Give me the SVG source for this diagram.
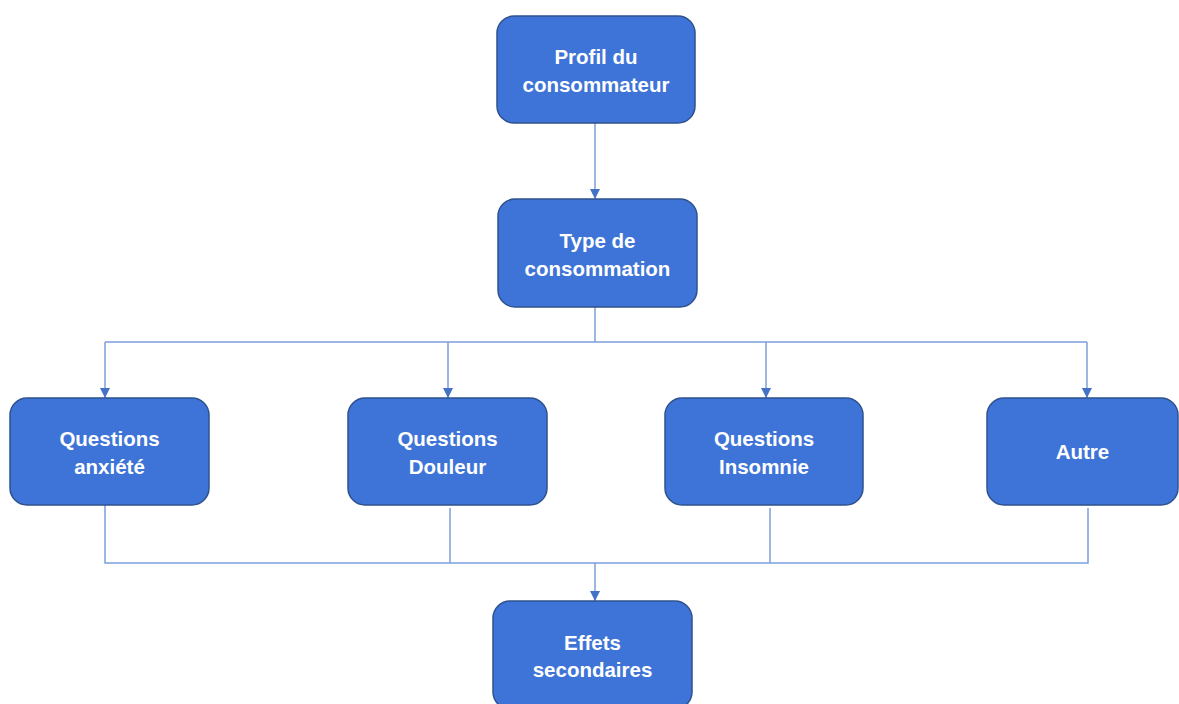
<svg xmlns="http://www.w3.org/2000/svg" width="1179" height="704" viewBox="0 0 1179 704">
<style>
.node rect{fill:#3E74D7;stroke:#2F528F;stroke-width:1.5}
.node text{fill:#FFFFFF;font-family:"Liberation Sans",Arial,sans-serif;font-weight:bold;font-size:20.5px;text-anchor:middle}
.conn path{fill:none;stroke:#7C9FDD;stroke-width:1.5}
</style>
<defs>
<marker id="arr" markerWidth="10" markerHeight="10" refX="10" refY="5" orient="auto" markerUnits="userSpaceOnUse">
<path d="M0,0 L10,5 L0,10 Z" fill="#4472C4"/>
</marker>
</defs>
<rect width="1179" height="704" fill="#FFFFFF"/>
<g id="connectors" class="conn">
<path d="M595,123 V199" marker-end="url(#arr)"/>
<path d="M595,307 V342"/>
<path d="M105,342 H1087"/>
<path d="M105,342 V398" marker-end="url(#arr)"/>
<path d="M448,342 V398" marker-end="url(#arr)"/>
<path d="M766,342 V398" marker-end="url(#arr)"/>
<path d="M1087,342 V398" marker-end="url(#arr)"/>
<path d="M105,505 V563 H1088 V508"/>
<path d="M450,508 V563"/>
<path d="M770,508 V563"/>
<path d="M595,563 V601" marker-end="url(#arr)"/>
</g>
<g id="profil" class="node">
<rect x="497" y="16" width="198" height="107" rx="17"/>
<text x="596" y="64">Profil du</text>
<text x="596" y="92">consommateur</text>
</g>
<g id="type" class="node">
<rect x="498" y="199" width="199" height="108" rx="17"/>
<text x="597.5" y="248">Type de</text>
<text x="597.5" y="275.5">consommation</text>
</g>
<g id="anxiete" class="node">
<rect x="10" y="398" width="199" height="107" rx="17"/>
<text x="109.5" y="446">Questions</text>
<text x="109.5" y="474">anxiété</text>
</g>
<g id="douleur" class="node">
<rect x="348" y="398" width="199" height="107" rx="17"/>
<text x="447.5" y="446">Questions</text>
<text x="447.5" y="474">Douleur</text>
</g>
<g id="insomnie" class="node">
<rect x="665" y="398" width="198" height="107" rx="17"/>
<text x="764" y="446">Questions</text>
<text x="764" y="474">Insomnie</text>
</g>
<g id="autre" class="node">
<rect x="987" y="398" width="191" height="107" rx="17"/>
<text x="1082.5" y="459">Autre</text>
</g>
<g id="effets" class="node">
<rect x="493" y="601" width="199" height="108" rx="17"/>
<text x="592.5" y="649.5">Effets</text>
<text x="592.5" y="677">secondaires</text>
</g>
</svg>
